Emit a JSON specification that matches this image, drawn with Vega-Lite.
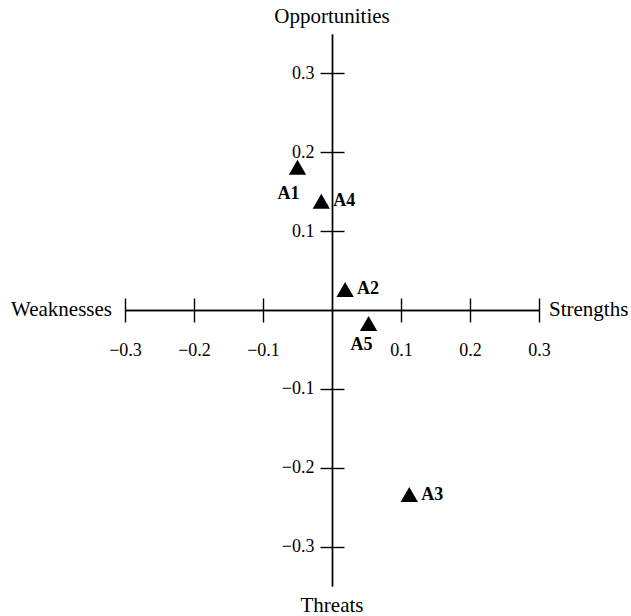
{
  "$schema": "https://vega.github.io/schema/vega-lite/v6.json",
  "width": 414,
  "height": 552,
  "autosize": {"type": "none"},
  "padding": {"left": 125, "top": 34, "right": 92, "bottom": 30},
  "background": "white",
  "config": {
    "view": {"stroke": null},
    "font": "Liberation Serif",
    "axis": {
      "grid": false,
      "domainColor": "black",
      "tickColor": "black",
      "domainWidth": 1.4,
      "tickWidth": 1.4,
      "labelFont": "Liberation Serif",
      "labelFontSize": 18,
      "labelColor": "black",
      "labelFlush": false,
      "labelOverlap": false,
      "title": null
    }
  },
  "datasets": {
    "pts": [
      {"alt": "A1", "s": -0.050, "o": 0.181},
      {"alt": "A2", "s": 0.019, "o": 0.026},
      {"alt": "A3", "s": 0.112, "o": -0.234},
      {"alt": "A4", "s": -0.0155, "o": 0.138},
      {"alt": "A5", "s": 0.053, "o": -0.017}
    ],
    "ends": [
      {"name": "Opportunities", "ex": 0, "ey": 0.35},
      {"name": "Threats", "ex": 0, "ey": -0.35},
      {"name": "Weaknesses", "ex": -0.3, "ey": 0},
      {"name": "Strengths", "ex": 0.3, "ey": 0}
    ]
  },
  "resolve": {"axis": {"x": "independent", "y": "independent"}},
  "layer": [
    {
      "data": {"name": "pts"},
      "mark": {"type": "point", "shape": "triangle-up", "filled": true, "color": "black", "opacity": 1, "size": 300},
      "encoding": {
        "x": {"field": "s", "type": "quantitative", "scale": {"domain": [-0.3, 0.3], "nice": false, "zero": false},
          "axis": {"orient": "bottom", "offset": -276, "values": [-0.3, -0.2, -0.1, 0.1, 0.2, 0.3], "format": ".1f", "tickSize": 12, "labelPadding": 19}},
        "y": {"field": "o", "type": "quantitative", "scale": {"domain": [-0.35, 0.35], "nice": false, "zero": false},
          "axis": {"orient": "left", "offset": -207, "values": [-0.3, -0.2, -0.1, 0.1, 0.2, 0.3], "format": ".1f", "tickSize": 12, "labelPadding": 6}}
      }
    },
    {
      "data": {"name": "pts"},
      "transform": [{"filter": "datum.alt === 'A2' || datum.alt === 'A3' || datum.alt === 'A4'"}],
      "mark": {"type": "text", "align": "left", "baseline": "middle", "dx": 12, "fontSize": 18, "fontWeight": "bold", "color": "black"},
      "encoding": {
        "x": {"field": "s", "type": "quantitative", "scale": {"domain": [-0.3, 0.3], "nice": false, "zero": false},
          "axis": {"orient": "top", "offset": -276, "values": [-0.3, -0.2, -0.1, 0.1, 0.2, 0.3], "tickSize": 12, "labels": false}},
        "y": {"field": "o", "type": "quantitative", "scale": {"domain": [-0.35, 0.35], "nice": false, "zero": false},
          "axis": {"orient": "right", "offset": -207, "values": [-0.3, -0.2, -0.1, 0.1, 0.2, 0.3], "tickSize": 12, "labels": false}},
        "text": {"field": "alt"}
      }
    },
    {
      "data": {"name": "pts"},
      "transform": [{"filter": "datum.alt === 'A5'"}],
      "mark": {"type": "text", "align": "center", "baseline": "middle", "dx": -7, "dy": 22, "fontSize": 18, "fontWeight": "bold", "color": "black"},
      "encoding": {
        "x": {"field": "s", "type": "quantitative", "axis": null},
        "y": {"field": "o", "type": "quantitative", "axis": null},
        "text": {"field": "alt"}
      }
    },
    {
      "data": {"name": "pts"},
      "transform": [{"filter": "datum.alt === 'A1'"}],
      "mark": {"type": "text", "align": "center", "baseline": "middle", "dx": -9, "dy": 27, "fontSize": 18, "fontWeight": "bold", "color": "black"},
      "encoding": {
        "x": {"field": "s", "type": "quantitative", "axis": null},
        "y": {"field": "o", "type": "quantitative", "axis": null},
        "text": {"field": "alt"}
      }
    },
    {
      "data": {"name": "ends"},
      "transform": [{"filter": "datum.name === 'Opportunities'"}],
      "mark": {"type": "text", "align": "center", "baseline": "alphabetic", "dy": -11, "fontSize": 21, "color": "black"},
      "encoding": {
        "x": {"field": "ex", "type": "quantitative", "axis": null},
        "y": {"field": "ey", "type": "quantitative", "axis": null},
        "text": {"field": "name"}
      }
    },
    {
      "data": {"name": "ends"},
      "transform": [{"filter": "datum.name === 'Threats'"}],
      "mark": {"type": "text", "align": "center", "baseline": "alphabetic", "dy": 26, "fontSize": 21, "color": "black"},
      "encoding": {
        "x": {"field": "ex", "type": "quantitative", "axis": null},
        "y": {"field": "ey", "type": "quantitative", "axis": null},
        "text": {"field": "name"}
      }
    },
    {
      "data": {"name": "ends"},
      "transform": [{"filter": "datum.name === 'Weaknesses'"}],
      "mark": {"type": "text", "align": "right", "baseline": "middle", "dx": -13, "fontSize": 21, "color": "black"},
      "encoding": {
        "x": {"field": "ex", "type": "quantitative", "axis": null},
        "y": {"field": "ey", "type": "quantitative", "axis": null},
        "text": {"field": "name"}
      }
    },
    {
      "data": {"name": "ends"},
      "transform": [{"filter": "datum.name === 'Strengths'"}],
      "mark": {"type": "text", "align": "left", "baseline": "middle", "dx": 10, "fontSize": 21, "color": "black"},
      "encoding": {
        "x": {"field": "ex", "type": "quantitative", "axis": null},
        "y": {"field": "ey", "type": "quantitative", "axis": null},
        "text": {"field": "name"}
      }
    }
  ]
}
